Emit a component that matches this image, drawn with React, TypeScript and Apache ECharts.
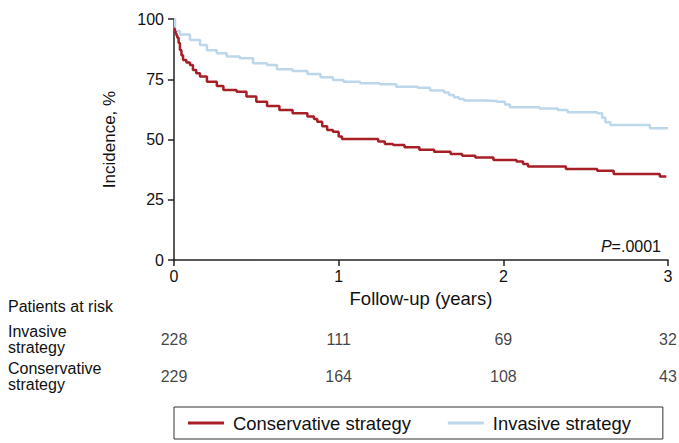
import React, { useEffect, useRef } from "react";
import * as echarts from "echarts";

const invasiveT = [0, 0.006, 0.036, 0.097, 0.158, 0.2, 0.26, 0.32, 0.4, 0.48, 0.565, 0.625, 0.72, 0.81, 0.89, 0.965, 1.03, 1.13, 1.25, 1.35, 1.48, 1.555, 1.64, 1.67, 1.7, 1.73, 1.76, 1.88, 1.96, 2.01, 2.04, 2.22, 2.33, 2.39, 2.57, 2.6, 2.62, 2.65, 2.89, 3.0];
const invasiveV = [100, 95, 93.6, 91.3, 89.2, 87, 85.8, 84.4, 83.7, 81.6, 80.9, 79.1, 78.4, 77.2, 75.8, 74.7, 74, 73.3, 72.9, 71.9, 71.5, 70.3, 69.5, 68.5, 67.5, 66.8, 66.2, 66, 65.7, 64.5, 63.4, 62.9, 62.2, 61.3, 60.9, 59, 57.2, 56, 54.7, 54.7];

const conservativeT = [0, 0.005, 0.01, 0.015, 0.02, 0.028, 0.036, 0.045, 0.055, 0.075, 0.097, 0.115, 0.135, 0.158, 0.2, 0.26, 0.3, 0.38, 0.44, 0.5, 0.565, 0.64, 0.72, 0.81, 0.85, 0.87, 0.9, 0.93, 0.965, 1.0, 1.02, 1.24, 1.28, 1.33, 1.4, 1.49, 1.58, 1.68, 1.75, 1.83, 1.94, 2.08, 2.12, 2.15, 2.38, 2.57, 2.67, 2.95, 2.99];
const conservativeV = [96, 95, 94, 93.2, 92.2, 90, 87.1, 85, 83, 82, 80.9, 78.8, 77.5, 76.1, 74, 72.2, 70.5, 69.8, 67.8, 65.7, 63.9, 62.2, 60.9, 59.5, 58.5, 57.4, 55.5, 53.9, 53.2, 51.2, 50.2, 49.2, 48.1, 47.7, 46.8, 45.7, 44.9, 44, 43.3, 42.5, 41.5, 40.9, 39.8, 38.8, 37.8, 37, 35.7, 34.6, 34.6];

const riskTimes = [0, 1, 2, 3];
const riskRows = ["Invasive\nstrategy", "Conservative\nstrategy"];
const invasiveAtRisk = [228, 111, 69, 32];
const conservativeAtRisk = [229, 164, 108, 43];

const xTicks = [0, 1, 2, 3];
const yTicks = [0, 25, 50, 75, 100];

const RED = "#a61f27";
const BLUE = "#bcd6ea";
const FONT = "Liberation Sans, Arial, sans-serif";

export default function App() {
  const ref = useRef<HTMLDivElement>(null);
  useEffect(() => {
    if (!ref.current) return;
    const chart = echarts.init(ref.current, null, { renderer: "svg" });
    const pair = (t: number[], v: number[]) => t.map((x, i) => [x, v[i]]);
    const riskData = [
      ...riskTimes.map((t, i) => ({ value: [t, 0], label: { formatter: String(invasiveAtRisk[i]) } })),
      ...riskTimes.map((t, i) => ({ value: [t, 1], label: { formatter: String(conservativeAtRisk[i]) } })),
    ];
    chart.setOption({
      animation: false,
      backgroundColor: "#ffffff",
      textStyle: { fontFamily: FONT, color: "#111" },
      grid: [
        { left: 174, right: 11, top: 19, bottom: 183, containLabel: false },
        { left: 174, right: 11, top: 321, height: 74, containLabel: false },
      ],
      xAxis: [
        {
          type: "value",
          gridIndex: 0,
          min: xTicks[0],
          max: xTicks[xTicks.length - 1],
          interval: 1,
          name: "Follow-up (years)",
          nameLocation: "middle",
          nameGap: 29,
          nameTextStyle: { fontSize: 18.5, color: "#111", fontFamily: FONT },
          axisLine: { show: true, lineStyle: { color: "#222", width: 1.5 } },
          axisTick: { show: true, length: 6, lineStyle: { color: "#222", width: 1.5 } },
          axisLabel: { fontSize: 16, color: "#111", margin: 8, fontFamily: FONT },
          splitLine: { show: false },
        },
        {
          type: "value",
          gridIndex: 1,
          min: 0,
          max: 3,
          show: false,
        },
      ],
      yAxis: [
        {
          type: "value",
          gridIndex: 0,
          min: yTicks[0],
          max: yTicks[yTicks.length - 1],
          interval: 25,
          name: "Incidence, %",
          nameLocation: "middle",
          nameGap: 56,
          nameTextStyle: { fontSize: 17, color: "#111", fontFamily: FONT },
          axisLine: { show: true, lineStyle: { color: "#222", width: 1.5 } },
          axisTick: { show: true, length: 6, lineStyle: { color: "#222", width: 1.5 } },
          axisLabel: { fontSize: 16, color: "#111", margin: 10, fontFamily: FONT },
          splitLine: { show: false },
        },
        {
          type: "category",
          gridIndex: 1,
          data: riskRows,
          inverse: true,
          axisLine: { show: false },
          axisTick: { show: false },
          splitLine: { show: false },
          axisLabel: {
            show: true,
            align: "left",
            margin: 166,
            fontSize: 16,
            lineHeight: 16,
            color: "#111",
            fontFamily: FONT,
          },
        },
      ],
      legend: {
        left: 174,
        top: 407,
        orient: "horizontal",
        data: ["Conservative strategy", "Invasive strategy"],
        icon: "rect",
        itemWidth: 36,
        itemHeight: 3,
        itemGap: 37,
        padding: [7, 32, 7, 14],
        borderColor: "#333",
        borderWidth: 1,
        textStyle: { fontSize: 18.4, color: "#111", fontFamily: FONT, padding: [0, 0, 0, 4] },
      },
      graphic: [
        {
          type: "text",
          left: 8,
          top: 298,
          style: { text: "Patients at risk", fontSize: 16, fill: "#111", fontFamily: FONT },
        },
        {
          type: "text",
          right: 18,
          top: 238,
          style: {
            text: "{i|P}=.0001",
            fontSize: 16,
            fill: "#111",
            fontFamily: FONT,
            rich: { i: { fontStyle: "italic", fontSize: 16, fontFamily: FONT, fill: "#111" } },
          },
        },
      ],
      series: [
        {
          name: "Conservative strategy",
          type: "line",
          xAxisIndex: 0,
          yAxisIndex: 0,
          step: "end",
          symbol: "none",
          data: pair(conservativeT, conservativeV),
          lineStyle: { color: RED, width: 2.5 },
          itemStyle: { color: RED },
          z: 3,
        },
        {
          name: "Invasive strategy",
          type: "line",
          xAxisIndex: 0,
          yAxisIndex: 0,
          step: "end",
          symbol: "none",
          data: pair(invasiveT, invasiveV),
          lineStyle: { color: BLUE, width: 2.5 },
          itemStyle: { color: BLUE },
          z: 2,
        },
        {
          name: "at risk",
          type: "scatter",
          xAxisIndex: 1,
          yAxisIndex: 1,
          symbolSize: 0,
          data: riskData,
          label: {
            show: true,
            position: "inside",
            fontSize: 16,
            color: "#111",
            fontFamily: FONT,
          },
          silent: true,
        },
      ],
    });
    return () => chart.dispose();
  }, []);
  return (
    <div
      ref={ref}
      style={{ position: "fixed", left: 0, top: 0, width: 679, height: 443, background: "#fff" }}
    />
  );
}
